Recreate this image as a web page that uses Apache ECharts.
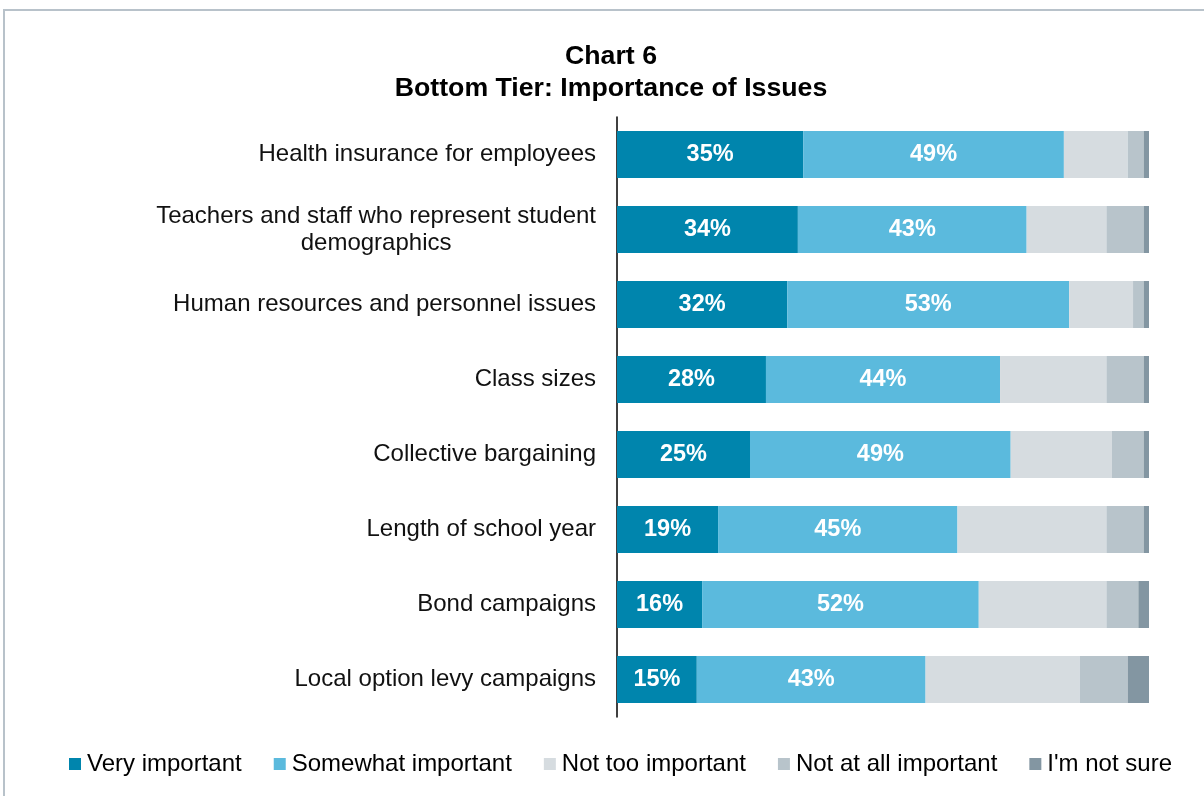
<!DOCTYPE html>
<html>
<head>
<meta charset="utf-8">
<style>
  html, body { margin: 0; padding: 0; background: #ffffff; }
  #chart { width: 1204px; height: 796px; }
</style>
<script src="https://cdn.jsdelivr.net/npm/echarts@6/dist/echarts.min.js"></script>
</head>
<body>
<div id="chart"></div>
<script>
// Survey items, top to bottom
const issues = [
  'Health insurance for employees',
  'Teachers and staff who represent student\ndemographics',
  'Human resources and personnel issues',
  'Class sizes',
  'Collective bargaining',
  'Length of school year',
  'Bond campaigns',
  'Local option levy campaigns'
];

// Share of respondents (%) per answer
const veryImportant     = [35, 34, 32, 28, 25, 19, 16, 15];
const somewhatImportant = [49, 43, 53, 44, 49, 45, 52, 43];
const notTooImportant   = [12, 15, 12, 20, 19, 28, 24, 29];
const notAtAllImportant = [3, 7, 2, 7, 6, 7, 6, 9];
const notSure           = [1, 1, 1, 1, 1, 1, 2, 4];

const seriesNames = ['Very important', 'Somewhat important', 'Not too important', 'Not at all important', "I'm not sure"];
const seriesData = [veryImportant, somewhatImportant, notTooImportant, notAtAllImportant, notSure];
const seriesColors = ['#0085AD', '#5BBADD', '#D6DCE0', '#B8C4CB', '#8396A2'];
const labelledSeries = [true, true, false, false, false];

const FONT = '"Liberation Sans", Arial, Helvetica, sans-serif';

const chart = echarts.init(document.getElementById('chart'), null, { renderer: 'canvas' });

const series = seriesNames.map((name, i) => ({
  name: name,
  type: 'bar',
  stack: 'total',
  barWidth: 47,
  data: seriesData[i],
  itemStyle: { color: seriesColors[i] },
  emphasis: { disabled: true },
  label: {
    show: labelledSeries[i],
    position: 'inside',
    formatter: '{c}%',
    color: '#ffffff',
    fontFamily: FONT,
    fontWeight: 'bold',
    fontSize: 23.5
  }
}));

chart.setOption({
  animation: false,
  backgroundColor: '#ffffff',
  graphic: [{
    type: 'rect',
    shape: { x: 4, y: 10, width: 1400, height: 1000 },
    style: { fill: 'none', stroke: '#B8C2CA', lineWidth: 2 },
    silent: true,
    z: -10
  }],
  title: {
    text: 'Chart 6\nBottom Tier: Importance of Issues',
    left: 606,
    textAlign: 'center',
    top: 36,
    textStyle: {
      fontFamily: FONT,
      fontWeight: 'bold',
      fontSize: 26.7,
      lineHeight: 32,
      color: '#000000'
    }
  },
  legend: {
    top: 747,
    left: 64,
    itemWidth: 12,
    itemHeight: 12,
    itemGap: 32,
    icon: 'rect',
    textStyle: { fontFamily: FONT, fontSize: 24, color: '#000000', padding: [0, 0, 0, 1] },
    data: seriesNames
  },
  grid: { left: 617, right: 55, top: 117, bottom: 79, containLabel: false },
  xAxis: {
    type: 'value',
    min: 0,
    max: 100,
    show: false
  },
  yAxis: {
    type: 'category',
    inverse: true,
    data: issues,
    axisLine: { show: true, lineStyle: { color: '#000000', width: 1.5 } },
    axisTick: { show: false },
    axisLabel: {
      margin: 21,
      color: '#111111',
      fontFamily: FONT,
      fontSize: 24,
      lineHeight: 27,
      formatter: function (v) {
        return v.split('\n').map(function (line) { return '{c|' + line + '}'; }).join('\n');
      },
      rich: {
        c: { align: 'center', fontFamily: FONT, fontSize: 24, lineHeight: 27, color: '#111111' }
      }
    }
  },
  series: series
});
</script>
</body>
</html>
